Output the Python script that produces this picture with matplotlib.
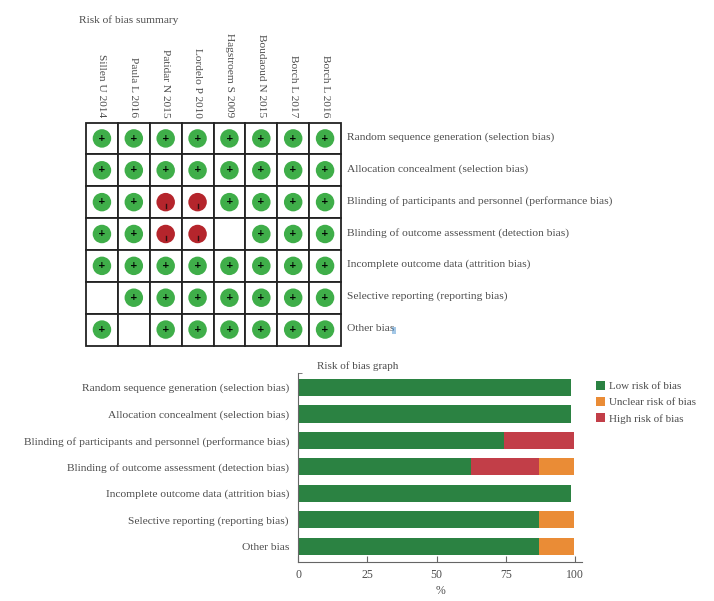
import matplotlib

matplotlib.use("Agg")
import matplotlib.pyplot as plt
from matplotlib.patches import Circle, Rectangle

W, H = 714, 601

studies = ["Sillen U 2014", "Paula L 2016", "Patidar N 2015", "Lordelo P 2010",
           "Hagstroem S 2009", "Boudaoud N 2015", "Borch L 2017", "Borch L 2016"]
domains = ["Random sequence generation (selection bias)",
           "Allocation concealment (selection bias)",
           "Blinding of participants and personnel (performance bias)",
           "Blinding of outcome assessment (detection bias)",
           "Incomplete outcome data (attrition bias)",
           "Selective reporting (reporting bias)",
           "Other bias"]
# one string per domain, one letter per study: + low, - high, blank not assessed
judgements = ["++++++++",
              "++++++++",
              "++--++++",
              "++-- +++",
              "++++++++",
              " +++++++",
              "+ ++++++"]
low = [98.7, 98.7, 74.5, 62.5, 98.7, 87, 87]
unclear = [0, 0, 0, 12.5, 0, 12.5, 12.5]
high = [0, 0, 25, 24.5, 0, 0, 0]
xticks = [0, 25, 50, 75, 100]

GREEN = "#2b8242"
ORANGE = "#ea8c36"
RED = "#c23e48"
TEXT = "#4d4d4d"

plt.rcParams["font.family"] = "Liberation Serif"
plt.rcParams["font.size"] = 8.2


def px_axes(fig, left, top, right, bottom):
    return fig.add_axes([left / W, 1 - bottom / H, (right - left) / W, (bottom - top) / H])


fig = plt.figure(figsize=(W / 100, H / 100), dpi=100)

# summary grid
ax = px_axes(fig, 86, 122.5, 341, 345.5)
ax.set_xlim(0, len(studies))
ax.set_ylim(len(domains), 0)
ax.axis("off")
for r, row in enumerate(judgements):
    for c, mark in enumerate(row):
        ax.add_patch(Rectangle((c, r), 1, 1, fc="white", ec="#222222", lw=1.3, clip_on=False))
        if mark == " ":
            continue
        color = "#3fae49" if mark == "+" else "#b5252c"
        ax.add_patch(Circle((c + 0.5, r + 0.5), 0.29, fc=color, ec="none"))
        if mark == "+":
            ax.text(c + 0.5, r + 0.49, "+", ha="center", va="center", fontsize=6.5,
                    fontweight="bold", color="black", family="DejaVu Sans")
        else:
            ax.plot([c + 0.5, c + 0.5], [r + 0.56, r + 0.68], color="#301010", lw=1.0)
for c, name in enumerate(studies):
    ax.text(c + 0.5, -0.16, name, rotation=270, ha="center", va="bottom", color=TEXT, fontsize=8.2)
for r, name in enumerate(domains):
    ax.text(8.2, r + 0.46, name, ha="left", va="center", color=TEXT, fontsize=8.25)
fig.text(79 / W, 1 - 20 / H, "Risk of bias summary", ha="left", va="center", color=TEXT, fontsize=8.2)

# text-selection highlight on the last letter of "Other bias"
fig.add_artist(Rectangle((392 / W, 1 - 334 / H), 3.5 / W, 7 / H, transform=fig.transFigure,
                         fc="#5a9bd5", ec="none", alpha=0.55))

# stacked bars
bx = px_axes(fig, 298, 373, 582, 562)
ypos = list(range(len(domains)))
left2 = [a + b for a, b in zip(low, high)]
bx.barh(ypos, low, height=0.65, color=GREEN, label="Low risk of bias")
bx.barh(ypos, unclear, height=0.65, left=left2, color=ORANGE, label="Unclear risk of bias")
bx.barh(ypos, high, height=0.65, left=low, color=RED, label="High risk of bias")
bx.set_xlim(0, 102.5)
bx.set_ylim(6.6, -0.55)
bx.set_yticks(ypos)
bx.set_yticklabels(domains, color=TEXT, fontsize=8.25)
bx.set_yticks([-0.55], minor=True)
bx.set_xticks(xticks)
bx.set_xticklabels([str(t) for t in xticks], color=TEXT, fontsize=8.5)
bx.tick_params(axis="y", length=0, pad=6.5)
bx.tick_params(axis="y", which="minor", direction="in", length=3, color="#666666")
bx.tick_params(axis="x", direction="in", length=4, color="#666666", pad=5)
bx.set_xlabel("%", color=TEXT, fontsize=8.5, labelpad=3)
bx.spines["top"].set_visible(False)
bx.spines["right"].set_visible(False)
bx.spines["left"].set_color("#666666")
bx.spines["bottom"].set_color("#666666")
fig.text(317 / W, 1 - 366 / H, "Risk of bias graph", ha="left", va="center", color=TEXT, fontsize=8)

handles, labels = bx.get_legend_handles_labels()
fig.legend(handles, labels, loc="upper left", bbox_to_anchor=(596 / W, 1 - 381 / H),
           frameon=False, fontsize=7.9, labelcolor=TEXT, handlelength=0.85, handleheight=0.85,
           handletextpad=0.3, labelspacing=0.55, borderpad=0, borderaxespad=0)

fig.savefig("out.png", dpi=100)
plt.close(fig)
